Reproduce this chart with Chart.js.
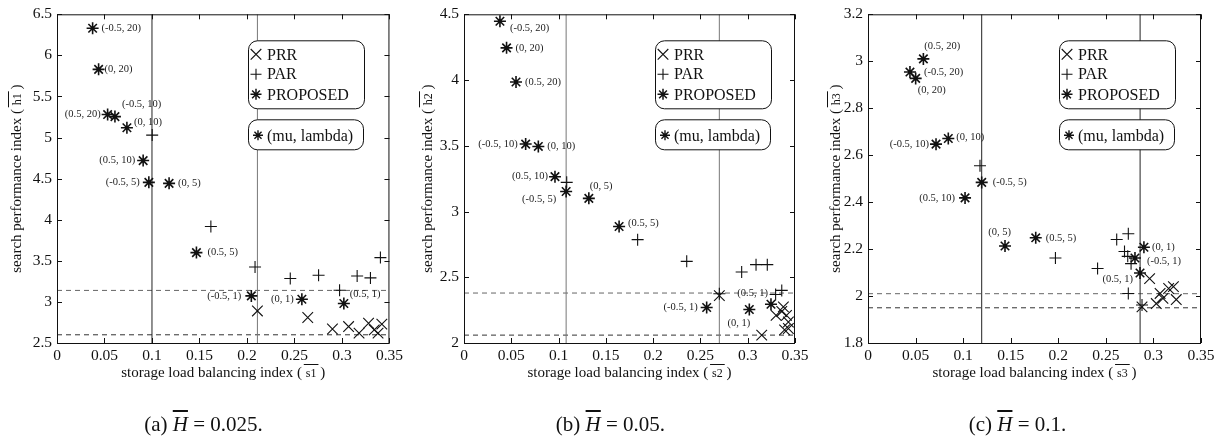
<!DOCTYPE html>
<html>
<head>
<meta charset="utf-8">
<script src="https://cdn.jsdelivr.net/npm/chart.js@4.4.0/dist/chart.umd.min.js"></script>
<style>
  html, body { margin: 0; padding: 0; background: #fff; }
  #wrap { position: relative; width: 1221px; height: 439px; overflow: hidden; }
  canvas { position: absolute; top: 0; }
  .cap { position: absolute; top: 412px; width: 407px; text-align: center;
         font: 21px "Liberation Serif", serif; line-height: 24px; color: #111; }
  .hb { font-style: italic; text-decoration: overline; }
</style>
</head>
<body>
<div id="wrap">
  <canvas id="c1" width="407" height="439" style="left:0px"></canvas>
  <canvas id="c2" width="407" height="439" style="left:407px"></canvas>
  <canvas id="c3" width="407" height="439" style="left:814px"></canvas>
  <div class="cap" style="left:0px">(a) <span class="hb">H</span> = 0.025.</div>
  <div class="cap" style="left:407px">(b) <span class="hb">H</span> = 0.05.</div>
  <div class="cap" style="left:814px">(c) <span class="hb">H</span> = 0.1.</div>
</div>
<script>
// shared x ticks and (mu, lambda) labels of the proposed points
const xTicks = [0, 0.05, 0.1, 0.15, 0.2, 0.25, 0.3, 0.35];
const propMu = [-0.5, 0, 0.5, -0.5, 0, 0.5, -0.5, 0, 0.5, -0.5, 0, 0.5];
const propLambda = [20, 20, 20, 10, 10, 10, 5, 5, 5, 1, 1, 1];

// (a) H = 0.025
const yTicksA = [2.5, 3, 3.5, 4, 4.5, 5, 5.5, 6, 6.5];
const prrXA = [0.211, 0.264, 0.29, 0.307, 0.318, 0.328, 0.334, 0.338, 0.342];
const prrYA = [2.89, 2.81, 2.67, 2.70, 2.62, 2.74, 2.66, 2.62, 2.73];
const parXA = [0.1002, 0.162, 0.2085, 0.2456, 0.2754, 0.2975, 0.316, 0.330, 0.3405];
const parYA = [5.03, 3.918, 3.425, 3.284, 3.324, 3.142, 3.316, 3.292, 3.539];
const propXA = [0.0375, 0.0438, 0.0533, 0.061, 0.0736, 0.0907, 0.0967, 0.118, 0.1468, 0.2046, 0.2578, 0.302];
const propYA = [6.33, 5.83, 5.28, 5.255, 5.12, 4.72, 4.455, 4.443, 3.60, 3.073, 3.033, 2.981];
const vLinesA = [0.1, 0.211];
const hLinesA = [3.14, 2.6];

// (b) H = 0.05
const yTicksB = [2, 2.5, 3, 3.5, 4, 4.5];
const prrXB = [0.27, 0.3148, 0.3377, 0.330, 0.341, 0.343, 0.343, 0.339, 0.336];
const prrYB = [2.36, 2.06, 2.275, 2.21, 2.21, 2.16, 2.11, 2.10, 2.24];
const parXB = [0.1086, 0.1836, 0.2355, 0.27, 0.2936, 0.3088, 0.3207, 0.3295, 0.336];
const parYB = [3.222, 2.786, 2.621, 2.375, 2.54, 2.596, 2.596, 2.369, 2.40];
const propXB = [0.038, 0.045, 0.055, 0.0652, 0.0786, 0.0962, 0.108, 0.132, 0.164, 0.2566, 0.3017, 0.3246];
const propYB = [4.447, 4.245, 3.985, 3.513, 3.495, 3.265, 3.152, 3.10, 2.886, 2.27, 2.255, 2.295];
const vLinesB = [0.108, 0.27];
const hLinesB = [2.38, 2.06];

// (c) H = 0.1
const yTicksC = [1.8, 2, 2.2, 2.4, 2.6, 2.8, 3, 3.2];
const prrXC = [0.288, 0.296, 0.303, 0.307, 0.310, 0.316, 0.321, 0.324];
const prrYC = [1.954, 2.074, 1.968, 2.011, 1.99, 2.032, 2.04, 1.985];
const parXC = [0.1177, 0.197, 0.2413, 0.2614, 0.2736, 0.2696, 0.273, 0.2765, 0.2736, 0.288];
const parYC = [2.555, 2.162, 2.117, 2.241, 2.265, 2.19, 2.169, 2.138, 2.011, 1.962];
const propXC = [0.0441, 0.0501, 0.0582, 0.0715, 0.0844, 0.102, 0.1195, 0.144, 0.1763, 0.2806, 0.290, 0.2859];
const propYC = [2.954, 2.927, 3.010, 2.647, 2.671, 2.418, 2.484, 2.213, 2.248, 2.162, 2.208, 2.098];
const vLinesC = [0.1195, 0.286];
const hLinesC = [2.01, 1.95];

const ink = "#111";
const serif = '"Liberation Serif", serif';

function pts(xs, ys) {
  return xs.map((x, i) => ({ x: x, y: ys[i] }));
}

const panels = [
  {
    id: "c1", yTicks: yTicksA, prr: pts(prrXA, prrYA), par: pts(parXA, parYA), prop: pts(propXA, propYA),
    vLines: vLinesA, hLines: hLinesA, vColors: ["#222", "#777"],
    sub: "1", left: 57, right: 17, yTitleX: 16,
    labelPos: [[9, 0, "l"], [6, 0, "l"], [-7, 0, "r"], [7, -12, "l"], [7, -5, "l"], [-8, 0, "r"],
               [-9, 0, "r"], [9, 0, "l"], [11, 0, "l"], [-10, 0, "r"], [-8, 0, "r"], [6, -9, "l"]]
  },
  {
    id: "c2", yTicks: yTicksB, prr: pts(prrXB, prrYB), par: pts(parXB, parYB), prop: pts(propXB, propYB),
    vLines: vLinesB, hLines: hLinesB, vColors: ["#777", "#777"],
    sub: "2", left: 57, right: 19, yTitleX: 20,
    labelPos: [[10, 7, "l"], [9, 0, "l"], [9, 0, "l"], [-8, 0, "r"], [9, 0, "l"], [-7, 0, "r"],
               [-10, 8, "r"], [1, -12, "l"], [9, -3, "l"], [-9, 0, "r"], [1, 14, "r"], [-3, -11, "r"]]
  },
  {
    id: "c3", yTicks: yTicksC, prr: pts(prrXC, prrYC), par: pts(parXC, parYC), prop: pts(propXC, propYC),
    vLines: vLinesC, hLines: hLinesC, vColors: ["#222", "#222"],
    sub: "3", left: 54, right: 20, yTitleX: 21,
    labelPos: [[14, 0, "l"], [2, 12, "l"], [1, -13, "l"], [-7, 0, "r"], [8, -1, "l"], [-10, 0, "r"],
               [11, 0, "l"], [6, -14, "r"], [10, 0, "l"], [12, 3, "l"], [8, 0, "l"], [-7, 6, "r"]]
  }
];

// text with an overlined index part, e.g. "( s1 )"
function drawTitle(ctx, pre, over, post, cx, cy, rotate) {
  ctx.save();
  ctx.translate(cx, cy);
  if (rotate) ctx.rotate(-Math.PI / 2);
  ctx.fillStyle = ink;
  ctx.strokeStyle = ink;
  ctx.lineWidth = 1;
  ctx.textAlign = "left";
  ctx.textBaseline = "alphabetic";
  const big = "15px " + serif, small = "12px " + serif;
  ctx.font = big;
  const w1 = ctx.measureText(pre).width, w3 = ctx.measureText(post).width;
  ctx.font = small;
  const w2 = ctx.measureText(over).width;
  let x = -(w1 + w2 + w3) / 2;
  const base = 5;
  ctx.font = big;
  ctx.fillText(pre, x, base);
  x += w1;
  ctx.font = small;
  ctx.fillText(over, x, base);
  ctx.beginPath();
  ctx.moveTo(x - 2, base - 12.5);
  ctx.lineTo(x + w2 + 2, base - 12.5);
  ctx.stroke();
  x += w2;
  ctx.font = big;
  ctx.fillText(post, x, base);
  ctx.restore();
}

function roundRect(ctx, x, y, w, h, r) {
  ctx.beginPath();
  ctx.moveTo(x + r, y);
  ctx.arcTo(x + w, y, x + w, y + h, r);
  ctx.arcTo(x + w, y + h, x, y + h, r);
  ctx.arcTo(x, y + h, x, y, r);
  ctx.arcTo(x, y, x + w, y, r);
  ctx.closePath();
}

function marker(ctx, style, radius, x, y, bw) {
  ctx.save();
  ctx.strokeStyle = ink;
  ctx.fillStyle = "rgba(0,0,0,0)";
  ctx.lineWidth = bw;
  Chart.helpers.drawPoint(ctx, { pointStyle: style, radius: radius, rotation: 0, borderWidth: bw }, x, y);
  ctx.restore();
}

function makeChart(p) {
  const yMin = p.yTicks[0], yMax = p.yTicks[p.yTicks.length - 1];
  const lineSets = [];
  p.vLines.forEach((v, i) => lineSets.push({
    data: [{ x: v, y: yMin }, { x: v, y: yMax }],
    showLine: true, pointRadius: 0, borderColor: p.vColors[i], borderWidth: 1
  }));
  p.hLines.forEach((v, i) => lineSets.push({
    data: [{ x: 0, y: v }, { x: 0.35, y: v }],
    showLine: true, pointRadius: 0, borderColor: i === 0 ? "#666" : "#333", borderWidth: 1, borderDash: [5, 4]
  }));

  const labels = propMu.map((m, i) => `(${m}, ${propLambda[i]})`);

  const extras = {
    id: "extras",
    afterDatasetsDraw(chart) {
      const ctx = chart.ctx;
      const meta = chart.getDatasetMeta(2);
      ctx.save();
      ctx.font = "10.5px " + serif;
      ctx.fillStyle = "#222";
      ctx.textBaseline = "middle";
      meta.data.forEach((pt, i) => {
        const [dx, dy, al] = p.labelPos[i];
        ctx.textAlign = al === "l" ? "left" : "right";
        ctx.fillText(labels[i], pt.x + dx, pt.y + dy);
      });
      // small filled centre of each asterisk
      ctx.fillStyle = ink;
      meta.data.forEach(pt => {
        ctx.beginPath();
        ctx.arc(pt.x, pt.y, 1.8, 0, Math.PI * 2);
        ctx.fill();
      });
      ctx.restore();
    },
    afterDraw(chart) {
      const { ctx, chartArea: a, scales } = chart;
      const xs = scales.x, ys = scales.y;
      ctx.save();
      ctx.strokeStyle = ink;
      ctx.lineWidth = 1;
      ctx.strokeRect(a.left + 0.5, a.top + 0.5, a.right - a.left - 1, a.bottom - a.top);
      ctx.beginPath();
      xTicks.forEach(v => {
        const px = Math.round(xs.getPixelForValue(v)) + 0.5;
        ctx.moveTo(px, a.bottom); ctx.lineTo(px, a.bottom - 5);
        ctx.moveTo(px, a.top); ctx.lineTo(px, a.top + 5);
      });
      p.yTicks.forEach(v => {
        const py = Math.round(ys.getPixelForValue(v)) + 0.5;
        ctx.moveTo(a.left, py); ctx.lineTo(a.left + 5, py);
        ctx.moveTo(a.right, py); ctx.lineTo(a.right - 5, py);
      });
      ctx.stroke();

      // legend boxes
      const bx = a.left + 191, by = a.top + 26;
      ctx.fillStyle = "#fff";
      roundRect(ctx, bx + 0.5, by + 0.5, 116, 68, 9);
      ctx.fill(); ctx.stroke();
      roundRect(ctx, bx + 0.5, by + 79.5, 115, 30, 9);
      ctx.fill(); ctx.stroke();
      marker(ctx, "crossRot", 7.5, bx + 8, by + 14, 1.1);
      marker(ctx, "cross", 5.5, bx + 8, by + 34, 1.1);
      marker(ctx, "star", 5.5, bx + 8, by + 54, 1.5);
      marker(ctx, "star", 5, bx + 10, by + 95, 1.4);
      ctx.fillStyle = ink;
      ctx.font = "16px " + serif;
      ctx.textAlign = "left";
      ctx.textBaseline = "middle";
      ctx.fillText("PRR", bx + 19, by + 15);
      ctx.fillText("PAR", bx + 19, by + 34);
      ctx.fillText("PROPOSED", bx + 19, by + 55);
      ctx.fillText("(mu, lambda)", bx + 19, by + 96);
      ctx.restore();

      drawTitle(ctx, "storage load balancing index ( ", "s" + p.sub, " )", (a.left + a.right) / 2, 372, false);
      drawTitle(ctx, "search performance index ( ", "h" + p.sub, " )", p.yTitleX, (a.top + a.bottom) / 2, true);
    }
  };

  new Chart(document.getElementById(p.id), {
    type: "scatter",
    data: {
      datasets: [
        { data: p.prr, pointStyle: "crossRot", pointRadius: 7.5, borderColor: ink, borderWidth: 1.1, clip: false },
        { data: p.par, pointStyle: "cross", pointRadius: 6, borderColor: ink, borderWidth: 1.1, clip: false },
        { data: p.prop, pointStyle: "star", pointRadius: 6, borderColor: ink, borderWidth: 1.6, clip: false }
      ].concat(lineSets)
    },
    options: {
      responsive: false,
      devicePixelRatio: 1,
      animation: false,
      events: [],
      layout: { padding: { left: 0, right: p.right, top: 13, bottom: 66 } },
      plugins: { legend: { display: false }, tooltip: { enabled: false } },
      scales: {
        x: {
          type: "linear", min: 0, max: 0.35,
          afterBuildTicks: s => { s.ticks = xTicks.map(v => ({ value: v })); },
          afterFit: s => { s.height = 30; },
          grid: { display: false, drawTicks: false },
          border: { display: false },
          ticks: {
            autoSkip: false, maxRotation: 0, padding: 4, color: ink,
            font: { family: "Liberation Serif", size: 15.5 },
            callback: v => String(+v.toFixed(2))
          }
        },
        y: {
          type: "linear", min: yMin, max: yMax,
          afterBuildTicks: s => { s.ticks = p.yTicks.map(v => ({ value: v })); },
          afterFit: s => { s.width = p.left; },
          grid: { display: false, drawTicks: false },
          border: { display: false },
          ticks: {
            autoSkip: false, padding: 5, color: ink,
            font: { family: "Liberation Serif", size: 15.5 },
            callback: v => String(+v.toFixed(2))
          }
        }
      }
    },
    plugins: [extras]
  });
}

panels.forEach(makeChart);
</script>
</body>
</html>
